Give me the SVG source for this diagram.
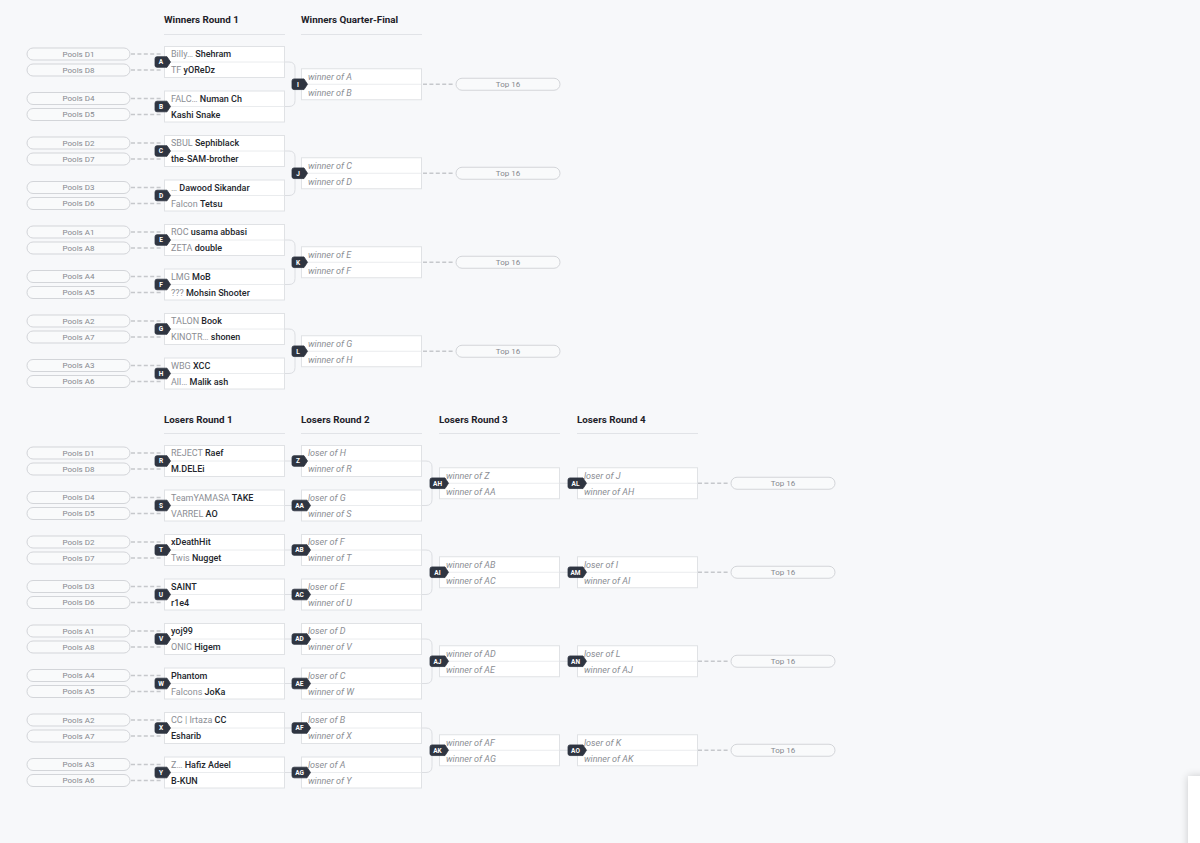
<svg xmlns="http://www.w3.org/2000/svg" xmlns:xlink="http://www.w3.org/1999/xlink" width="1200" height="843" viewBox="0 0 1200 843">
<style>
text{font-family:Roboto,"Liberation Sans",Arial,sans-serif}
.hd{font-size:9.8px;font-weight:700;fill:#1d2129}
.ul{stroke:#e1e3e7;stroke-width:1}
.row{font-size:9px}
.tag{fill:#8b8e94;font-weight:400}
.nm{fill:#23262c;font-weight:500}
.ph{fill:#8b8e94;font-style:italic;font-size:9px}
.pool{font-size:8px;fill:#85888e;text-anchor:middle}
.bt{font-size:6.5px;font-weight:700;fill:#ffffff;text-anchor:middle}
.badge{fill:#2f3541;stroke:#2f3541;stroke-width:0.8;stroke-linejoin:round}
.dash{stroke:#c6c8cc;stroke-width:1.7;stroke-dasharray:4 2.4;fill:none}
.br{stroke:#dcdee2;stroke-width:1;fill:none}
.pl{fill:#f9fafb;stroke:#d3d5d9;stroke-width:1}
</style>
<defs>
<g id="box"><rect x="0.5" y="0.5" width="120" height="31" fill="#ffffff" stroke="#e0e2e5"/><line x1="1" y1="16" x2="120" y2="16" stroke="#eaecee"/></g>
<rect id="pill" width="103" height="12" rx="6" class="pl"/>
<path id="b1" class="badge" d="M2,-5.3 H12 L15.5,0 L12,5.3 H2 Q0,5.3 0,3.3 V-3.3 Q0,-5.3 2,-5.3 Z"/>
<path id="b2" class="badge" d="M2,-5.3 H15 L18.5,0 L15,5.3 H2 Q0,5.3 0,3.3 V-3.3 Q0,-5.3 2,-5.3 Z"/>
<filter id="sh" x="-2" y="-1" width="5" height="3"><feGaussianBlur stdDeviation="4"/></filter>
</defs>
<rect width="1200" height="843" fill="#f7f8fa"/>

<g id="headers">
<text class="hd" x="164" y="22.5">Winners Round 1</text><line class="ul" x1="164" y1="34.5" x2="285" y2="34.5"/>
<text class="hd" x="301" y="22.5">Winners Quarter-Final</text><line class="ul" x1="301" y1="34.5" x2="422" y2="34.5"/>
<text class="hd" x="164" y="422.5">Losers Round 1</text><line class="ul" x1="164" y1="433.5" x2="285" y2="433.5"/>
<text class="hd" x="301" y="422.5">Losers Round 2</text><line class="ul" x1="301" y1="433.5" x2="422" y2="433.5"/>
<text class="hd" x="439" y="422.5">Losers Round 3</text><line class="ul" x1="439" y1="433.5" x2="560" y2="433.5"/>
<text class="hd" x="577" y="422.5">Losers Round 4</text><line class="ul" x1="577" y1="433.5" x2="698" y2="433.5"/>
</g>

<g id="connectors">
<path class="dash" d="M131,54H163M131,70H163M131,98.5H163M131,114.5H163M131,143H163M131,159H163M131,187.5H163M131,203.5H163M131,232H163M131,248H163M131,276.5H163M131,292.5H163M131,321H163M131,337H163M131,365.5H163M131,381.5H163"/>
<path class="dash" d="M131,453H163M131,469H163M131,497.5H163M131,513.5H163M131,542H163M131,558H163M131,586.5H163M131,602.5H163M131,631H163M131,647H163M131,675.5H163M131,691.5H163M131,720H163M131,736H163M131,764.5H163M131,780.5H163"/>
<path class="dash" d="M423,84.25H455M423,173.25H455M423,262.25H455M423,351.25H455"/>
<path class="dash" d="M698,483.25H730M698,572.25H730M698,661.25H730M698,750.25H730"/>
<path class="br" d="M285,62H289Q295,62 295,68V100.5Q295,106.5 289,106.5H285M295,84.25H301"/>
<path class="br" d="M285,151H289Q295,151 295,157V189.5Q295,195.5 289,195.5H285M295,173.25H301"/>
<path class="br" d="M285,240H289Q295,240 295,246V278.5Q295,284.5 289,284.5H285M295,262.25H301"/>
<path class="br" d="M285,329H289Q295,329 295,335V367.5Q295,373.5 289,373.5H285M295,351.25H301"/>
<path class="br" d="M285,461H301M285,505.5H301M285,550H301M285,594.5H301M285,639H301M285,683.5H301M285,728H301M285,772.5H301"/>
<path class="br" d="M422,461H426Q432,461 432,467V499.5Q432,505.5 426,505.5H422M432,483.25H439"/>
<path class="br" d="M422,550H426Q432,550 432,556V588.5Q432,594.5 426,594.5H422M432,572.25H439"/>
<path class="br" d="M422,639H426Q432,639 432,645V677.5Q432,683.5 426,683.5H422M432,661.25H439"/>
<path class="br" d="M422,728H426Q432,728 432,734V766.5Q432,772.5 426,772.5H422M432,750.25H439"/>
<path class="br" d="M560,483.25H577M560,572.25H577M560,661.25H577M560,750.25H577"/>
</g>

<g id="seeds-winners">
<use href="#pill" x="27" y="48"/><text class="pool" x="78.5" y="56.8">Pools D1</text>
<use href="#pill" x="27" y="64"/><text class="pool" x="78.5" y="72.8">Pools D8</text>
<use href="#pill" x="27" y="92.5"/><text class="pool" x="78.5" y="101.3">Pools D4</text>
<use href="#pill" x="27" y="108.5"/><text class="pool" x="78.5" y="117.3">Pools D5</text>
<use href="#pill" x="27" y="137"/><text class="pool" x="78.5" y="145.8">Pools D2</text>
<use href="#pill" x="27" y="153"/><text class="pool" x="78.5" y="161.8">Pools D7</text>
<use href="#pill" x="27" y="181.5"/><text class="pool" x="78.5" y="190.3">Pools D3</text>
<use href="#pill" x="27" y="197.5"/><text class="pool" x="78.5" y="206.3">Pools D6</text>
<use href="#pill" x="27" y="226"/><text class="pool" x="78.5" y="234.8">Pools A1</text>
<use href="#pill" x="27" y="242"/><text class="pool" x="78.5" y="250.8">Pools A8</text>
<use href="#pill" x="27" y="270.5"/><text class="pool" x="78.5" y="279.3">Pools A4</text>
<use href="#pill" x="27" y="286.5"/><text class="pool" x="78.5" y="295.3">Pools A5</text>
<use href="#pill" x="27" y="315"/><text class="pool" x="78.5" y="323.8">Pools A2</text>
<use href="#pill" x="27" y="331"/><text class="pool" x="78.5" y="339.8">Pools A7</text>
<use href="#pill" x="27" y="359.5"/><text class="pool" x="78.5" y="368.3">Pools A3</text>
<use href="#pill" x="27" y="375.5"/><text class="pool" x="78.5" y="384.3">Pools A6</text>
</g>
<g id="seeds-losers">
<use href="#pill" x="27" y="447"/><text class="pool" x="78.5" y="455.8">Pools D1</text>
<use href="#pill" x="27" y="463"/><text class="pool" x="78.5" y="471.8">Pools D8</text>
<use href="#pill" x="27" y="491.5"/><text class="pool" x="78.5" y="500.3">Pools D4</text>
<use href="#pill" x="27" y="507.5"/><text class="pool" x="78.5" y="516.3">Pools D5</text>
<use href="#pill" x="27" y="536"/><text class="pool" x="78.5" y="544.8">Pools D2</text>
<use href="#pill" x="27" y="552"/><text class="pool" x="78.5" y="560.8">Pools D7</text>
<use href="#pill" x="27" y="580.5"/><text class="pool" x="78.5" y="589.3">Pools D3</text>
<use href="#pill" x="27" y="596.5"/><text class="pool" x="78.5" y="605.3">Pools D6</text>
<use href="#pill" x="27" y="625"/><text class="pool" x="78.5" y="633.8">Pools A1</text>
<use href="#pill" x="27" y="641"/><text class="pool" x="78.5" y="649.8">Pools A8</text>
<use href="#pill" x="27" y="669.5"/><text class="pool" x="78.5" y="678.3">Pools A4</text>
<use href="#pill" x="27" y="685.5"/><text class="pool" x="78.5" y="694.3">Pools A5</text>
<use href="#pill" x="27" y="714"/><text class="pool" x="78.5" y="722.8">Pools A2</text>
<use href="#pill" x="27" y="730"/><text class="pool" x="78.5" y="738.8">Pools A7</text>
<use href="#pill" x="27" y="758.5"/><text class="pool" x="78.5" y="767.3">Pools A3</text>
<use href="#pill" x="27" y="774.5"/><text class="pool" x="78.5" y="783.3">Pools A6</text>
</g>

<g id="match-A"><use href="#box" x="164" y="46"/><text class="row" x="171" y="57.3"><tspan class="tag">Billy…</tspan> <tspan class="nm">Shehram</tspan></text><text class="row" x="171" y="73.3"><tspan class="tag">TF</tspan> <tspan class="nm">yOReDz</tspan></text><use href="#b1" x="155" y="62"/><text class="bt" x="161" y="64.3">A</text></g>
<g id="match-B"><use href="#box" x="164" y="90.5"/><text class="row" x="171" y="101.8"><tspan class="tag">FALC…</tspan> <tspan class="nm">Numan Ch</tspan></text><text class="row nm" x="171" y="117.8">Kashi Snake</text><use href="#b1" x="155" y="106.5"/><text class="bt" x="161" y="108.8">B</text></g>
<g id="match-C"><use href="#box" x="164" y="135"/><text class="row" x="171" y="146.3"><tspan class="tag">SBUL</tspan> <tspan class="nm">Sephiblack</tspan></text><text class="row nm" x="171" y="162.3">the-SAM-brother</text><use href="#b1" x="155" y="151"/><text class="bt" x="161" y="153.3">C</text></g>
<g id="match-D"><use href="#box" x="164" y="179.5"/><text class="row" x="171" y="190.8"><tspan class="tag">…</tspan> <tspan class="nm">Dawood Sikandar</tspan></text><text class="row" x="171" y="206.8"><tspan class="tag">Falcon</tspan> <tspan class="nm">Tetsu</tspan></text><use href="#b1" x="155" y="195.5"/><text class="bt" x="161" y="197.8">D</text></g>
<g id="match-E"><use href="#box" x="164" y="224"/><text class="row" x="171" y="235.3"><tspan class="tag">ROC</tspan> <tspan class="nm">usama abbasi</tspan></text><text class="row" x="171" y="251.3"><tspan class="tag">ZETA</tspan> <tspan class="nm">double</tspan></text><use href="#b1" x="155" y="240"/><text class="bt" x="161" y="242.3">E</text></g>
<g id="match-F"><use href="#box" x="164" y="268.5"/><text class="row" x="171" y="279.8"><tspan class="tag">LMG</tspan> <tspan class="nm">MoB</tspan></text><text class="row" x="171" y="295.8"><tspan class="tag">???</tspan> <tspan class="nm">Mohsin Shooter</tspan></text><use href="#b1" x="155" y="284.5"/><text class="bt" x="161" y="286.8">F</text></g>
<g id="match-G"><use href="#box" x="164" y="313"/><text class="row" x="171" y="324.3"><tspan class="tag">TALON</tspan> <tspan class="nm">Book</tspan></text><text class="row" x="171" y="340.3"><tspan class="tag">KINOTR…</tspan> <tspan class="nm">shonen</tspan></text><use href="#b1" x="155" y="329"/><text class="bt" x="161" y="331.3">G</text></g>
<g id="match-H"><use href="#box" x="164" y="357.5"/><text class="row" x="171" y="368.8"><tspan class="tag">WBG</tspan> <tspan class="nm">XCC</tspan></text><text class="row" x="171" y="384.8"><tspan class="tag">All…</tspan> <tspan class="nm">Malik ash</tspan></text><use href="#b1" x="155" y="373.5"/><text class="bt" x="161" y="375.8">H</text></g>

<g id="match-I"><use href="#box" x="301" y="68.25"/><text class="ph" x="308" y="79.55">winner of A</text><text class="ph" x="308" y="95.55">winner of B</text><use href="#b1" x="292" y="84.25"/><text class="bt" x="298" y="86.55">I</text></g>
<g id="match-J"><use href="#box" x="301" y="157.25"/><text class="ph" x="308" y="168.55">winner of C</text><text class="ph" x="308" y="184.55">winner of D</text><use href="#b1" x="292" y="173.25"/><text class="bt" x="298" y="175.55">J</text></g>
<g id="match-K"><use href="#box" x="301" y="246.25"/><text class="ph" x="308" y="257.55">winner of E</text><text class="ph" x="308" y="273.55">winner of F</text><use href="#b1" x="292" y="262.25"/><text class="bt" x="298" y="264.55">K</text></g>
<g id="match-L"><use href="#box" x="301" y="335.25"/><text class="ph" x="308" y="346.55">winner of G</text><text class="ph" x="308" y="362.55">winner of H</text><use href="#b1" x="292" y="351.25"/><text class="bt" x="298" y="353.55">L</text></g>

<g id="top16-winners">
<rect class="pl" x="456" y="78.25" width="104" height="12" rx="6"/><text class="pool" x="508" y="87.05">Top 16</text>
<rect class="pl" x="456" y="167.25" width="104" height="12" rx="6"/><text class="pool" x="508" y="176.05">Top 16</text>
<rect class="pl" x="456" y="256.25" width="104" height="12" rx="6"/><text class="pool" x="508" y="265.05">Top 16</text>
<rect class="pl" x="456" y="345.25" width="104" height="12" rx="6"/><text class="pool" x="508" y="354.05">Top 16</text>
</g>

<g id="match-R"><use href="#box" x="164" y="445"/><text class="row" x="171" y="456.3"><tspan class="tag">REJECT</tspan> <tspan class="nm">Raef</tspan></text><text class="row nm" x="171" y="472.3">M.DELEi</text><use href="#b1" x="155" y="461"/><text class="bt" x="161" y="463.3">R</text></g>
<g id="match-S"><use href="#box" x="164" y="489.5"/><text class="row" x="171" y="500.8"><tspan class="tag">TeamYAMASA</tspan> <tspan class="nm">TAKE</tspan></text><text class="row" x="171" y="516.8"><tspan class="tag">VARREL</tspan> <tspan class="nm">AO</tspan></text><use href="#b1" x="155" y="505.5"/><text class="bt" x="161" y="507.8">S</text></g>
<g id="match-T"><use href="#box" x="164" y="534"/><text class="row nm" x="171" y="545.3">xDeathHit</text><text class="row" x="171" y="561.3"><tspan class="tag">Twis</tspan> <tspan class="nm">Nugget</tspan></text><use href="#b1" x="155" y="550"/><text class="bt" x="161" y="552.3">T</text></g>
<g id="match-U"><use href="#box" x="164" y="578.5"/><text class="row nm" x="171" y="589.8">SAINT</text><text class="row nm" x="171" y="605.8">r1e4</text><use href="#b1" x="155" y="594.5"/><text class="bt" x="161" y="596.8">U</text></g>
<g id="match-V"><use href="#box" x="164" y="623"/><text class="row nm" x="171" y="634.3">yoj99</text><text class="row" x="171" y="650.3"><tspan class="tag">ONIC</tspan> <tspan class="nm">Higem</tspan></text><use href="#b1" x="155" y="639"/><text class="bt" x="161" y="641.3">V</text></g>
<g id="match-W"><use href="#box" x="164" y="667.5"/><text class="row nm" x="171" y="678.8">Phantom</text><text class="row" x="171" y="694.8"><tspan class="tag">Falcons</tspan> <tspan class="nm">JoKa</tspan></text><use href="#b1" x="155" y="683.5"/><text class="bt" x="161" y="685.8">W</text></g>
<g id="match-X"><use href="#box" x="164" y="712"/><text class="row" x="171" y="723.3"><tspan class="tag">CC | Irtaza</tspan> <tspan class="nm">CC</tspan></text><text class="row nm" x="171" y="739.3">Esharib</text><use href="#b1" x="155" y="728"/><text class="bt" x="161" y="730.3">X</text></g>
<g id="match-Y"><use href="#box" x="164" y="756.5"/><text class="row" x="171" y="767.8"><tspan class="tag">Z…</tspan> <tspan class="nm">Hafiz Adeel</tspan></text><text class="row nm" x="171" y="783.8">B-KUN</text><use href="#b1" x="155" y="772.5"/><text class="bt" x="161" y="774.8">Y</text></g>

<g id="match-Z"><use href="#box" x="301" y="445"/><text class="ph" x="308" y="456.3">loser of H</text><text class="ph" x="308" y="472.3">winner of R</text><use href="#b1" x="292" y="461"/><text class="bt" x="298" y="463.3">Z</text></g>
<g id="match-AA"><use href="#box" x="301" y="489.5"/><text class="ph" x="308" y="500.8">loser of G</text><text class="ph" x="308" y="516.8">winner of S</text><use href="#b2" x="292" y="505.5"/><text class="bt" x="299.5" y="507.8">AA</text></g>
<g id="match-AB"><use href="#box" x="301" y="534"/><text class="ph" x="308" y="545.3">loser of F</text><text class="ph" x="308" y="561.3">winner of T</text><use href="#b2" x="292" y="550"/><text class="bt" x="299.5" y="552.3">AB</text></g>
<g id="match-AC"><use href="#box" x="301" y="578.5"/><text class="ph" x="308" y="589.8">loser of E</text><text class="ph" x="308" y="605.8">winner of U</text><use href="#b2" x="292" y="594.5"/><text class="bt" x="299.5" y="596.8">AC</text></g>
<g id="match-AD"><use href="#box" x="301" y="623"/><text class="ph" x="308" y="634.3">loser of D</text><text class="ph" x="308" y="650.3">winner of V</text><use href="#b2" x="292" y="639"/><text class="bt" x="299.5" y="641.3">AD</text></g>
<g id="match-AE"><use href="#box" x="301" y="667.5"/><text class="ph" x="308" y="678.8">loser of C</text><text class="ph" x="308" y="694.8">winner of W</text><use href="#b2" x="292" y="683.5"/><text class="bt" x="299.5" y="685.8">AE</text></g>
<g id="match-AF"><use href="#box" x="301" y="712"/><text class="ph" x="308" y="723.3">loser of B</text><text class="ph" x="308" y="739.3">winner of X</text><use href="#b2" x="292" y="728"/><text class="bt" x="299.5" y="730.3">AF</text></g>
<g id="match-AG"><use href="#box" x="301" y="756.5"/><text class="ph" x="308" y="767.8">loser of A</text><text class="ph" x="308" y="783.8">winner of Y</text><use href="#b2" x="292" y="772.5"/><text class="bt" x="299.5" y="774.8">AG</text></g>

<g id="match-AH"><use href="#box" x="439" y="467.25"/><text class="ph" x="446" y="478.55">winner of Z</text><text class="ph" x="446" y="494.55">winner of AA</text><use href="#b2" x="430" y="483.25"/><text class="bt" x="437.5" y="485.55">AH</text></g>
<g id="match-AI"><use href="#box" x="439" y="556.25"/><text class="ph" x="446" y="567.55">winner of AB</text><text class="ph" x="446" y="583.55">winner of AC</text><use href="#b2" x="430" y="572.25"/><text class="bt" x="437.5" y="574.55">AI</text></g>
<g id="match-AJ"><use href="#box" x="439" y="645.25"/><text class="ph" x="446" y="656.55">winner of AD</text><text class="ph" x="446" y="672.55">winner of AE</text><use href="#b2" x="430" y="661.25"/><text class="bt" x="437.5" y="663.55">AJ</text></g>
<g id="match-AK"><use href="#box" x="439" y="734.25"/><text class="ph" x="446" y="745.55">winner of AF</text><text class="ph" x="446" y="761.55">winner of AG</text><use href="#b2" x="430" y="750.25"/><text class="bt" x="437.5" y="752.55">AK</text></g>

<g id="match-AL"><use href="#box" x="577" y="467.25"/><text class="ph" x="584" y="478.55">loser of J</text><text class="ph" x="584" y="494.55">winner of AH</text><use href="#b2" x="568" y="483.25"/><text class="bt" x="575.5" y="485.55">AL</text></g>
<g id="match-AM"><use href="#box" x="577" y="556.25"/><text class="ph" x="584" y="567.55">loser of I</text><text class="ph" x="584" y="583.55">winner of AI</text><use href="#b2" x="568" y="572.25"/><text class="bt" x="575.5" y="574.55">AM</text></g>
<g id="match-AN"><use href="#box" x="577" y="645.25"/><text class="ph" x="584" y="656.55">loser of L</text><text class="ph" x="584" y="672.55">winner of AJ</text><use href="#b2" x="568" y="661.25"/><text class="bt" x="575.5" y="663.55">AN</text></g>
<g id="match-AO"><use href="#box" x="577" y="734.25"/><text class="ph" x="584" y="745.55">loser of K</text><text class="ph" x="584" y="761.55">winner of AK</text><use href="#b2" x="568" y="750.25"/><text class="bt" x="575.5" y="752.55">AO</text></g>

<g id="top16-losers">
<rect class="pl" x="731" y="477.25" width="104" height="12" rx="6"/><text class="pool" x="783" y="486.05">Top 16</text>
<rect class="pl" x="731" y="566.25" width="104" height="12" rx="6"/><text class="pool" x="783" y="575.05">Top 16</text>
<rect class="pl" x="731" y="655.25" width="104" height="12" rx="6"/><text class="pool" x="783" y="664.05">Top 16</text>
<rect class="pl" x="731" y="744.25" width="104" height="12" rx="6"/><text class="pool" x="783" y="753.05">Top 16</text>
</g>

<g id="corner-widget">
<rect x="1188" y="776" width="30" height="80" fill="#000000" opacity="0.18" filter="url(#sh)"/>
<rect x="1188" y="776" width="12" height="67" fill="#ffffff"/>
</g>
</svg>
